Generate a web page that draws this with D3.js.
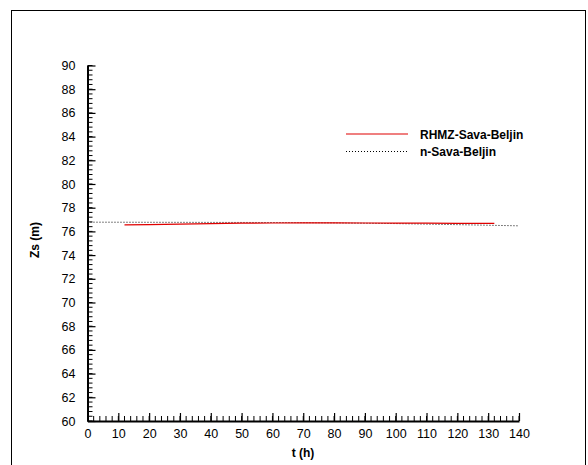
<!DOCTYPE html>
<html>
<head>
<meta charset="utf-8">
<script src="https://cdn.jsdelivr.net/npm/d3@7/dist/d3.min.js"></script>
<style>
  html, body { margin: 0; padding: 0; background: #fff; }
  svg { display: block; }
  text { font-family: "Liberation Sans", Arial, sans-serif; }
</style>
</head>
<body>
<script>
// ---- Data ----
const seriesNames = ["RHMZ-Sava-Beljin", "n-Sava-Beljin"];
const rhmzT = [12, 20, 30, 40, 50, 60, 70, 80, 90, 100, 110, 120, 132];
const rhmzZ = [76.55, 76.58, 76.62, 76.66, 76.69, 76.71, 76.72, 76.72, 76.71, 76.70, 76.69, 76.68, 76.67];
const nT = [0, 20, 40, 60, 80, 100, 120, 140];
const nZ = [76.78, 76.77, 76.76, 76.75, 76.72, 76.66, 76.57, 76.47];
const xTicks = [0, 10, 20, 30, 40, 50, 60, 70, 80, 90, 100, 110, 120, 130, 140];
const yTicks = [60, 62, 64, 66, 68, 70, 72, 74, 76, 78, 80, 82, 84, 86, 88, 90];
const xLabel = "t (h)";
const yLabel = "Zs (m)";

const W = 588, H = 465;
const svg = d3.select("body").append("svg").attr("width", W).attr("height", H);

// outer frame
svg.append("rect").attr("x", 11.5).attr("y", 10.5).attr("width", 574).attr("height", 470)
  .attr("fill", "none").attr("stroke", "#000").attr("stroke-width", 1);

const x = d3.scaleLinear().domain([0, 140]).range([87.5, 519]);
const y = d3.scaleLinear().domain([60, 90]).range([421, 65.5]);

// minor ticks
const xMinor = d3.range(0, 140.001, 2);
const yMinor = d3.range(60, 90.001, 0.4);

const gx = svg.append("g").attr("transform", `translate(0,${y(60)})`);
gx.selectAll("line.minor").data(xMinor).join("line")
  .attr("x1", d => x(d)).attr("x2", d => x(d)).attr("y1", 0).attr("y2", -5)
  .attr("stroke", "#000").attr("stroke-width", 1);
gx.call(d3.axisBottom(x).tickValues(xTicks).tickSizeInner(-8).tickSizeOuter(0).tickPadding(8))
  .call(g => g.select(".domain").attr("stroke-width", 2))
  .call(g => g.selectAll(".tick line").attr("stroke-width", 1.2))
  .call(g => g.selectAll(".tick text").attr("font-size", 12.5).attr("fill", "#000")
    .attr("font-family", "Liberation Sans, Arial, sans-serif"));

const gy = svg.append("g").attr("transform", `translate(${x(0)},0)`);
gy.selectAll("line.minor").data(yMinor).join("line")
  .attr("y1", d => y(d)).attr("y2", d => y(d)).attr("x1", 0).attr("x2", 5)
  .attr("stroke", "#000").attr("stroke-width", 1);
gy.call(d3.axisLeft(y).tickValues(yTicks).tickSizeInner(-8).tickSizeOuter(0).tickPadding(12))
  .call(g => g.select(".domain").attr("stroke-width", 2))
  .call(g => g.selectAll(".tick line").attr("stroke-width", 1.2))
  .call(g => g.selectAll(".tick text").attr("font-size", 12.5).attr("fill", "#000")
    .attr("font-family", "Liberation Sans, Arial, sans-serif"));

// axis titles
svg.append("text").attr("x", 303).attr("y", 457).attr("text-anchor", "middle")
  .attr("font-size", 12).attr("font-weight", "bold").text(xLabel);
svg.append("text").attr("transform", "translate(39,240) rotate(-90)").attr("text-anchor", "middle")
  .attr("font-size", 12).attr("font-weight", "bold").text(yLabel);

// lines
const line = d3.line().x(d => x(d[0])).y(d => y(d[1]));
svg.append("path").datum(nT.map((t, i) => [t, nZ[i]])).attr("d", line)
  .attr("fill", "none").attr("stroke", "#000").attr("stroke-width", 1).attr("stroke-dasharray", "1,2");
svg.append("path").datum(rhmzT.map((t, i) => [t, rhmzZ[i]])).attr("d", line)
  .attr("fill", "none").attr("stroke", "#e00000").attr("stroke-width", 1.2);

// legend
const leg = svg.append("g");
leg.append("line").attr("x1", 346).attr("x2", 408).attr("y1", 134).attr("y2", 134)
  .attr("stroke", "#e00000").attr("stroke-width", 1.2);
leg.append("text").attr("x", 420).attr("y", 138.5).attr("font-size", 12).attr("font-weight", "bold").text(seriesNames[0]);
leg.append("line").attr("x1", 346).attr("x2", 408).attr("y1", 151.5).attr("y2", 151.5)
  .attr("stroke", "#000").attr("stroke-width", 1).attr("stroke-dasharray", "1,2");
leg.append("text").attr("x", 420).attr("y", 155.5).attr("font-size", 12).attr("font-weight", "bold").text(seriesNames[1]);
</script>
</body>
</html>
